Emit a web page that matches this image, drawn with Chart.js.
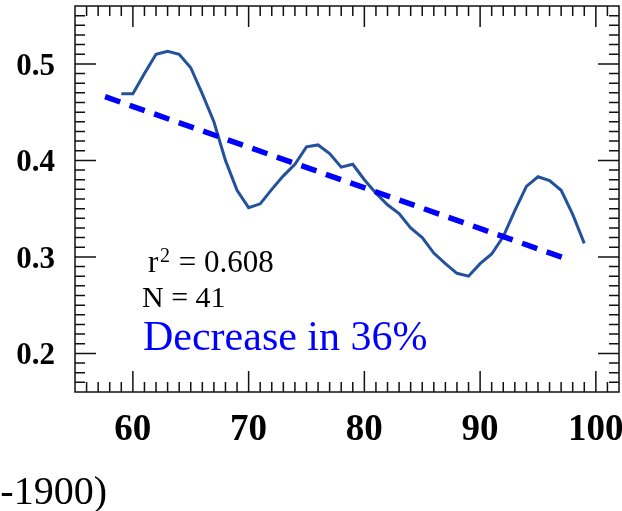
<!DOCTYPE html>
<html>
<head>
<meta charset="utf-8">
<script src="https://cdn.jsdelivr.net/npm/chart.js@4.4.0/dist/chart.umd.min.js"></script>
<style>
  html, body { margin: 0; padding: 0; background: #fff; }
  #wrap { width: 622px; height: 511px; position: relative; }
</style>
</head>
<body>
<div id="wrap"><canvas id="trend"></canvas></div>
<script>
// yearly series (year - 1900)
var years = [59, 60, 61, 62, 63, 64, 65, 66, 67, 68, 69, 70, 71, 72, 73, 74, 75, 76, 77, 78,
             79, 80, 81, 82, 83, 84, 85, 86, 87, 88, 89, 90, 91, 92, 93, 94, 95, 96, 97, 98, 99];
var values = [0.469, 0.469, 0.490, 0.510, 0.513, 0.510, 0.496, 0.469, 0.440, 0.400, 0.369,
              0.351, 0.355, 0.370, 0.384, 0.396, 0.414, 0.416, 0.407, 0.393, 0.396, 0.380,
              0.366, 0.354, 0.345, 0.330, 0.320, 0.304, 0.293, 0.283, 0.280, 0.293, 0.303,
              0.321, 0.348, 0.373, 0.383, 0.379, 0.369, 0.344, 0.314];

// fitted line end points
var trendYears = [57.6, 97.7];
var trendValues = [0.466, 0.297];

var xTicks = [60, 70, 80, 90, 100];
var yTicks = [0.2, 0.3, 0.4, 0.5];

var statsText = ['r', '2', ' = 0.608', 'N = 41'];
var noteText = 'Decrease in 36%';
var axisTitle = '-1900)';

var serif = "'Liberation Serif', 'Times New Roman', serif";

// box frame with inward ticks on all four sides
var frameTicks = {
  id: 'frameTicks',
  afterDatasetsDraw: function (chart) {
    var c = chart.ctx, a = chart.chartArea;
    var xs = chart.scales.x, ys = chart.scales.y;
    c.save();
    c.strokeStyle = '#111';
    c.lineWidth = 1.5;
    c.strokeRect(a.left, a.top, a.right - a.left, a.bottom - a.top);
    c.beginPath();
    var v, p, len;
    for (v = 56; v <= 101; v++) {
      p = xs.getPixelForValue(v);
      len = v % 10 === 0 ? 21 : 10;
      c.moveTo(p, a.top); c.lineTo(p, a.top + len);
      c.moveTo(p, a.bottom); c.lineTo(p, a.bottom - len);
    }
    for (v = 17; v <= 55; v++) {
      p = ys.getPixelForValue(v / 100);
      len = v % 10 === 0 ? 21 : 10;
      c.moveTo(a.left, p); c.lineTo(a.left + len, p);
      c.moveTo(a.right, p); c.lineTo(a.right - len, p);
    }
    c.stroke();
    c.restore();
  },
  afterDraw: function (chart) {
    var c = chart.ctx;
    c.save();
    c.textBaseline = 'alphabetic';
    c.textAlign = 'left';
    c.fillStyle = '#000';
    c.font = '31px ' + serif;
    c.fillText(statsText[0], 148, 272);
    c.font = '20px ' + serif;
    c.fillText(statsText[1], 160, 262);
    c.font = '31px ' + serif;
    c.fillText(statsText[2], 171, 272);
    c.font = '30px ' + serif;
    c.fillText(statsText[3], 142, 307);
    c.fillStyle = '#0000ff';
    c.font = '42px ' + serif;
    c.fillText(noteText, 143, 350);
    c.fillStyle = '#000';
    c.font = '40px ' + serif;
    c.textAlign = 'right';
    c.fillText(axisTitle, 107, 504);
    c.restore();
  }
};

var ctx = document.getElementById('trend').getContext('2d');

var trendChart = new Chart(ctx, {
  type: 'line',
  data: {
    datasets: [{
      label: 'Trend',
      data: trendYears.map(function (x, i) { return { x: x, y: trendValues[i] }; }),
      borderColor: '#0000ff',
      borderWidth: 5.5,
      borderDash: [16, 10],
      pointRadius: 0,
      fill: false
    }, {
      label: 'Series',
      data: years.map(function (x, i) { return { x: x, y: values[i] }; }),
      borderColor: '#24519c',
      borderWidth: 3,
      pointRadius: 0,
      tension: 0,
      fill: false
    }]
  },
  options: {
    responsive: true,
    maintainAspectRatio: false,
    animation: false,
    layout: { padding: { top: 6, right: 3, left: 0, bottom: 0 } },
    plugins: { legend: { display: false }, tooltip: { enabled: false } },
    scales: {
      x: {
        type: 'linear',
        min: 55,
        max: 102,
        afterFit: function (s) {
          s.height = 119;
          s.paddingLeft = 0; s.paddingRight = 0;
        },
        afterBuildTicks: function (s) { s.ticks = xTicks.map(function (v) { return { value: v }; }); },
        grid: { display: false, drawTicks: false },
        border: { display: false },
        ticks: {
          padding: 16,
          color: '#000',
          font: { family: serif, size: 37, weight: 'bold' },
          callback: function (v) { return String(v); }
        }
      },
      y: {
        min: 0.16,
        max: 0.56,
        afterFit: function (s) {
          s.width = 75;
          s.paddingTop = 0; s.paddingBottom = 0;
        },
        afterBuildTicks: function (s) { s.ticks = yTicks.map(function (v) { return { value: v }; }); },
        grid: { display: false, drawTicks: false },
        border: { display: false },
        ticks: {
          padding: 20,
          labelOffset: 3,
          color: '#000',
          font: { family: serif, size: 31, weight: 'bold' },
          callback: function (v) { return v.toFixed(1); }
        }
      }
    }
  },
  plugins: [frameTicks]
});
</script>
</body>
</html>
